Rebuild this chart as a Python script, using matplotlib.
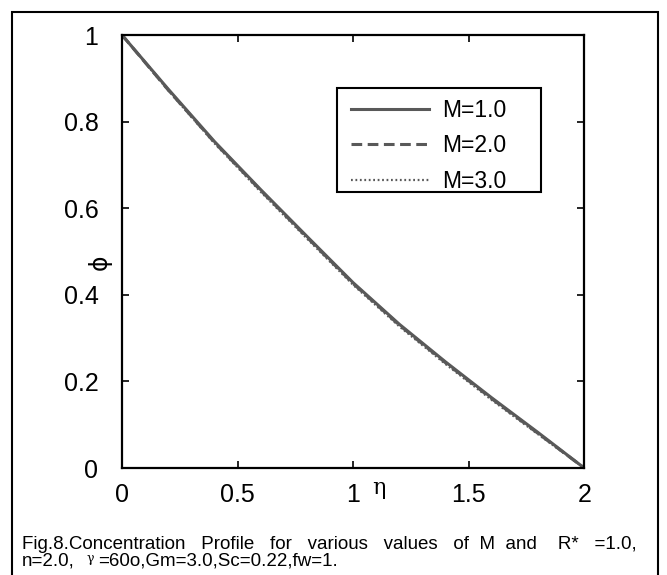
import matplotlib.pyplot as plt
from matplotlib.patches import Rectangle

plt.rcParams['font.family'] = ['Liberation Sans', 'DejaVu Sans']

# data
eta = [0.0, 0.2, 0.4, 0.6, 0.8, 1.0, 1.2, 1.4, 1.6, 1.8, 2.0]
phi_m1 = [1.0, 0.875, 0.754, 0.643, 0.535, 0.428, 0.332, 0.245, 0.162, 0.082, 0.0]
phi_m2 = [1.0, 0.873, 0.752, 0.641, 0.533, 0.426, 0.330, 0.243, 0.160, 0.080, 0.0]
phi_m3 = [1.0, 0.872, 0.750, 0.638, 0.530, 0.423, 0.327, 0.240, 0.157, 0.078, 0.0]
labels = ['M=1.0', 'M=2.0', 'M=3.0']
xticks = [0, 0.5, 1, 1.5, 2]
xticklabels = ['0', '0.5', '1', '1.5', '2']
yticks = [0, 0.2, 0.4, 0.6, 0.8, 1]
yticklabels = ['0', '0.2', '0.4', '0.6', '0.8', '1']

fig = plt.figure(figsize=(6.67, 5.75), dpi=100)
ax = fig.add_axes([0.183, 0.186, 0.693, 0.753])

col = '#595959'
ax.plot(eta, phi_m1, color=col, lw=2.2, ls='-', label=labels[0])
ax.plot(eta, phi_m2, color=col, lw=2.2, ls=(0, (3.5, 1.8)), label=labels[1])
ax.plot(eta, phi_m3, color=col, lw=1.6, ls=(0, (0.8, 1.2)), label=labels[2])

ax.set_xlim(0, 2)
ax.set_ylim(0, 1)
ax.set_xticks(xticks)
ax.set_xticklabels(xticklabels)
ax.set_yticks(yticks)
ax.set_yticklabels(yticklabels)
ax.tick_params(direction='in', length=5, width=1.2, top=True, right=True,
               labelsize=18)
ax.tick_params(axis='x', pad=11)
ax.tick_params(axis='y', pad=17)
for s in ax.spines.values():
    s.set_linewidth(1.6)

ax.text(1.11, -0.045, '\u03b7', fontsize=16, family=['DejaVu Serif'],
        ha='center', va='center')
ax.text(-0.048, 0.476, '\u03d5', transform=ax.transAxes, fontsize=17,
        rotation=90, ha='center', va='center', family=['DejaVu Sans'])

# legend box drawn separately: the source box is wider and tighter at the bottom
ax.add_patch(Rectangle((0.465, 0.637), 0.442, 0.241, transform=ax.transAxes,
                       facecolor='white', edgecolor='black', lw=1.5, zorder=4))
leg = ax.legend(loc='upper left', bbox_to_anchor=(0.465, 0.885), fontsize=16.5,
                frameon=False, handlelength=3.4, labelspacing=0.55,
                borderpad=0.6, handletextpad=0.6, borderaxespad=0)
leg.set_zorder(5)

fig.patches.append(Rectangle((0.018, -0.02), 0.968, 0.999, transform=fig.transFigure,
                             fill=False, edgecolor='black', lw=1.5))

# caption (first line is justified in the source, hence the wide gaps)
cap1 = 'Fig.8.Concentration   Profile   for   various   values   of  M  and    R*   =1.0,'
fig.text(0.033, 0.046, cap1, fontsize=13.5, va='baseline')
fig.text(0.033, 0.017, 'n=2.0,', fontsize=13.5, va='baseline')
fig.text(0.129, 0.022, '\u03b3', fontsize=9, family=['DejaVu Serif'], va='baseline')
fig.text(0.147, 0.017, '=60o,Gm=3.0,Sc=0.22,fw=1.', fontsize=13.5, va='baseline')

fig.savefig('out.png', dpi=100)
